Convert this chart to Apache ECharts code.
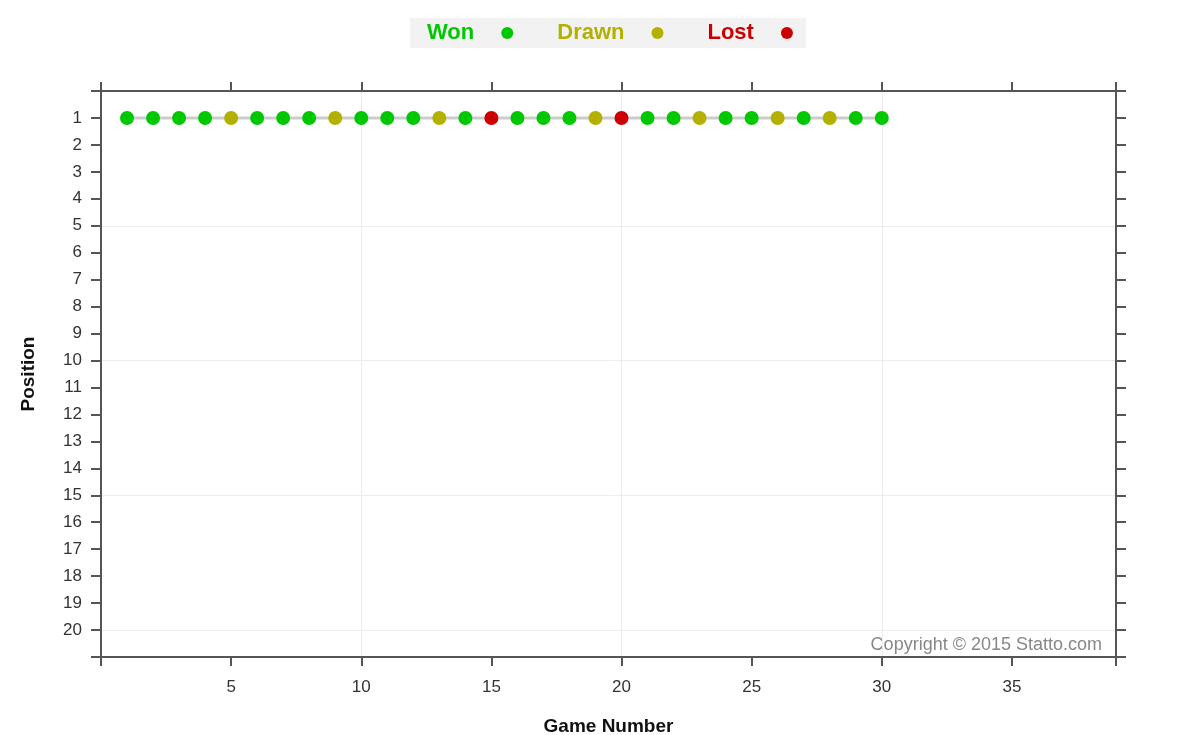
<!DOCTYPE html>
<html><head><meta charset="utf-8">
<script src="https://cdn.jsdelivr.net/npm/echarts@6/dist/echarts.min.js"></script>
<style>html,body{margin:0;padding:0;background:#fff}#c{width:1200px;height:735px}</style>
</head><body><div id="c"></div>
<script>
const games = [1,2,3,4,5,6,7,8,9,10,11,12,13,14,15,16,17,18,19,20,21,22,23,24,25,26,27,28,29,30];
const positions = [1,1,1,1,1,1,1,1,1,1,1,1,1,1,1,1,1,1,1,1,1,1,1,1,1,1,1,1,1,1];
const results = ['W','W','W','W','D','W','W','W','D','W','W','W','D','W','L','W','W','W','D','L','W','W','D','W','W','D','W','D','W','W'];
const xTicks = [5,10,15,20,25,30,35];
const yTicks = [1,2,3,4,5,6,7,8,9,10,11,12,13,14,15,16,17,18,19,20];

const colors = {W:'#00c800', D:'#b3b000', L:'#cc0000'};
const names = {W:'Won', D:'Drawn', L:'Lost'};
function pts(r){ return games.map((g,i)=>results[i]===r?[g,positions[i]]:null).filter(Boolean); }

const font = 'Liberation Sans, Arial, sans-serif';
const axisLine = {show:true, onZero:false, lineStyle:{color:'#555', width:2}};
const chart = echarts.init(document.getElementById('c'));
chart.setOption({
  animation:false,
  textStyle:{fontFamily:font},
  legend:{
    top:18, left:410, align:'right', itemGap:44, itemWidth:12, itemHeight:12,
    backgroundColor:'#f2f2f2', padding:[4,13,4,17], icon:'circle',
    formatter: n => '{t|' + n + '}',
    data:['W','D','L'].map(k=>({name:names[k], itemStyle:{color:colors[k]},
      textStyle:{color:colors[k], fontWeight:'bold', fontSize:22, fontFamily:font,
        rich:{t:{color:colors[k], fontWeight:'bold', fontSize:22, fontFamily:font, padding:[0,22,0,0]}}}}))
  },
  grid:{left:101, right:84, top:91, bottom:78, outerBoundsMode:'none', containLabel:false},
  xAxis:[{
    type:'value', min:0, max:39, interval:5, position:'bottom',
    name:'Game Number', nameLocation:'middle', nameGap:60,
    nameTextStyle:{fontWeight:'bold', fontSize:19, color:'#111', fontFamily:font},
    axisLine:axisLine, axisTick:{show:true, length:9, lineStyle:{color:'#555', width:2}},
    axisLabel:{fontSize:17, color:'#333', margin:22, formatter:v=>xTicks.includes(v)?String(v):''},
    splitLine:{show:false}
  },{
    type:'value', min:0, max:39, interval:5, position:'top',
    axisLine:axisLine, axisTick:{show:true, length:9, lineStyle:{color:'#555', width:2}},
    axisLabel:{show:false}, splitLine:{show:false}
  },{
    type:'value', min:0, max:39, interval:10, position:'bottom',
    axisLine:{show:false, onZero:false}, axisTick:{show:false}, axisLabel:{show:false},
    splitLine:{show:true, lineStyle:{color:'#ececec', width:1}}
  }],
  yAxis:[{
    type:'value', min:0, max:21, interval:1, inverse:true, position:'left',
    name:'Position', nameLocation:'middle', nameGap:63, nameRotate:90,
    nameTextStyle:{fontWeight:'bold', fontSize:19, color:'#111', fontFamily:font},
    axisLine:axisLine, axisTick:{show:true, length:10, lineStyle:{color:'#555', width:2}},
    axisLabel:{fontSize:17, color:'#333', margin:19, formatter:v=>yTicks.includes(v)?String(v):''},
    splitLine:{show:false}
  },{
    type:'value', min:0, max:21, interval:1, inverse:true, position:'right',
    axisLine:axisLine, axisTick:{show:true, length:10, lineStyle:{color:'#555', width:2}},
    axisLabel:{show:false}, splitLine:{show:false}
  },{
    type:'value', min:0, max:21, interval:5, inverse:true, position:'left',
    axisLine:{show:false, onZero:false}, axisTick:{show:false}, axisLabel:{show:false},
    splitLine:{show:true, lineStyle:{color:'#ececec', width:1}}
  }],
  graphic:[{
    type:'text', right:98, bottom:81,
    style:{text:'Copyright © 2015 Statto.com', fill:'#888', font:'18px '+font}
  }],
  series:[
    {type:'line', data:games.map((g,i)=>[g,positions[i]]), symbol:'none', silent:true,
     lineStyle:{color:'#cccccc', width:3}, z:1},
    ...['W','D','L'].map(k=>({
      name:names[k], type:'scatter', data:pts(k), symbol:'circle', symbolSize:14,
      itemStyle:{color:colors[k], opacity:1}, z:3
    }))
  ]
});
</script></body></html>
